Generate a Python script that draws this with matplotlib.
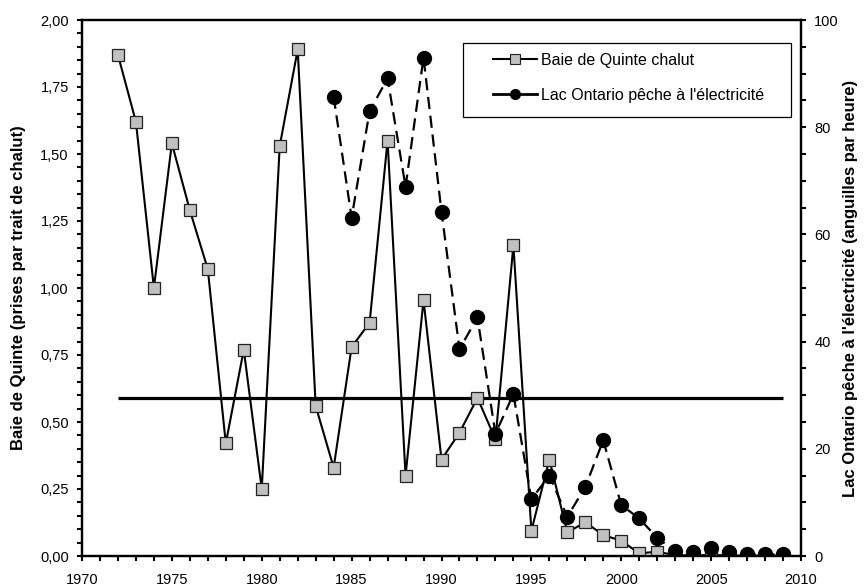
import matplotlib
matplotlib.use("Agg")
import matplotlib.pyplot as plt
from matplotlib.lines import Line2D
from matplotlib.patches import Rectangle
from matplotlib.ticker import MultipleLocator, FuncFormatter

plt.rcParams['font.family'] = ['Liberation Sans', 'DejaVu Sans']

# Baie de Quinte trawl (left axis)
quinte_years = list(range(1972, 2010))
quinte_values = [1.87, 1.62, 1.00, 1.54, 1.29, 1.07, 0.42, 0.77, 0.25, 1.53,
                 1.89, 0.56, 0.33, 0.78, 0.87, 1.55, 0.30, 0.955, 0.36, 0.46,
                 0.59, 0.435, 1.16, 0.094, 0.36, 0.088, 0.126, 0.078, 0.057, 0.010,
                 0.016, 0.003, 0.002, 0.004, 0.002, 0.001, 0.001, 0.001]

# Lac Ontario electrofishing (right axis)
ontario_years = list(range(1984, 2010))
ontario_values = [85.7, 63.1, 83.0, 89.1, 68.9, 93.0, 64.2, 38.6, 44.5, 22.8,
                  30.2, 10.6, 15.0, 7.3, 12.9, 21.6, 9.5, 7.0, 3.4, 0.9,
                  0.7, 1.4, 0.7, 0.4, 0.3, 0.3]

# Reference line (left axis)
ref_years = [1972, 2009]
ref_value = 0.588

labels = ["Baie de Quinte chalut", "Lac Ontario pêche à l'électricité"]
ylabel_left = "Baie de Quinte (prises par trait de chalut)"
ylabel_right = "Lac Ontario pêche à l'électricité (anguilles par heure)"

fig = plt.figure(figsize=(8.67, 5.86), dpi=100)
ax = fig.add_axes([82/867, 30/586, 719/867, 536/586])
ax2 = ax.twinx()

ax.plot(ref_years, [ref_value, ref_value], color='black', lw=2.3, zorder=2,
        solid_capstyle='butt')
ax.plot(quinte_years, quinte_values, color='black', lw=1.5, marker='s',
        markersize=8.5, markerfacecolor='#c0c0c0', markeredgecolor='#222222',
        markeredgewidth=0.9, zorder=3)
ax2.plot(ontario_years, ontario_values, color='black', lw=1.6,
         linestyle=(0, (5.5, 3)), marker='o', markersize=10,
         markerfacecolor='black', markeredgecolor='black', zorder=3)

ax.set_xlim(1970, 2010)
ax.set_ylim(0, 2.0)
ax2.set_ylim(0, 100)

ax.xaxis.set_major_locator(MultipleLocator(5))
ax.xaxis.set_minor_locator(MultipleLocator(1))
ax.yaxis.set_major_locator(MultipleLocator(0.25))
ax.yaxis.set_minor_locator(MultipleLocator(0.05))
ax2.yaxis.set_major_locator(MultipleLocator(20))
ax2.yaxis.set_minor_locator(MultipleLocator(5))

ax.yaxis.set_major_formatter(FuncFormatter(lambda v, p: f"{v:.2f}".replace('.', ',')))

for a in (ax, ax2):
    for s in a.spines.values():
        s.set_linewidth(1.6)
    a.tick_params(which='both', direction='out', length=3.5, width=1.5, labelsize=10.5)
ax.tick_params(axis='x', which='both', pad=8.5)
ax.tick_params(axis='y', which='both', pad=6)
ax2.tick_params(axis='y', which='both', pad=6)
ax.tick_params(axis='y', which='both', right=False)
ax2.tick_params(axis='x', which='both', bottom=False, top=False)
ax.tick_params(axis='x', which='both', top=False)

ax.set_ylabel(ylabel_left, fontsize=12, fontweight='bold', labelpad=10)
ax2.set_ylabel(ylabel_right, fontsize=12, fontweight='bold', labelpad=14,
               rotation=90, va='bottom')

handles = [
    Line2D([], [], color='black', lw=1.5, marker='s', markersize=6.5,
           markerfacecolor='#c0c0c0', markeredgecolor='#222222', markeredgewidth=0.8),
    Line2D([], [], color='black', lw=2, marker='o', markersize=7,
           markerfacecolor='black', markeredgecolor='black'),
]
leg = ax2.legend(handles, labels, loc='upper left',
                 bbox_to_anchor=((493 - 82) / 719, (556 - 53) / 536),
                 frameon=False, fontsize=11.5, handlelength=2.75,
                 handletextpad=0.25, labelspacing=1.23, borderpad=0,
                 borderaxespad=0)
ax2.add_patch(Rectangle(((463 - 82) / 719, (556 - 117) / 536),
                        (791 - 463) / 719, (117 - 43) / 536,
                        transform=ax2.transAxes, fill=False,
                        edgecolor='black', lw=0.9, zorder=10, clip_on=False))

fig.savefig("out.png", dpi=100)
